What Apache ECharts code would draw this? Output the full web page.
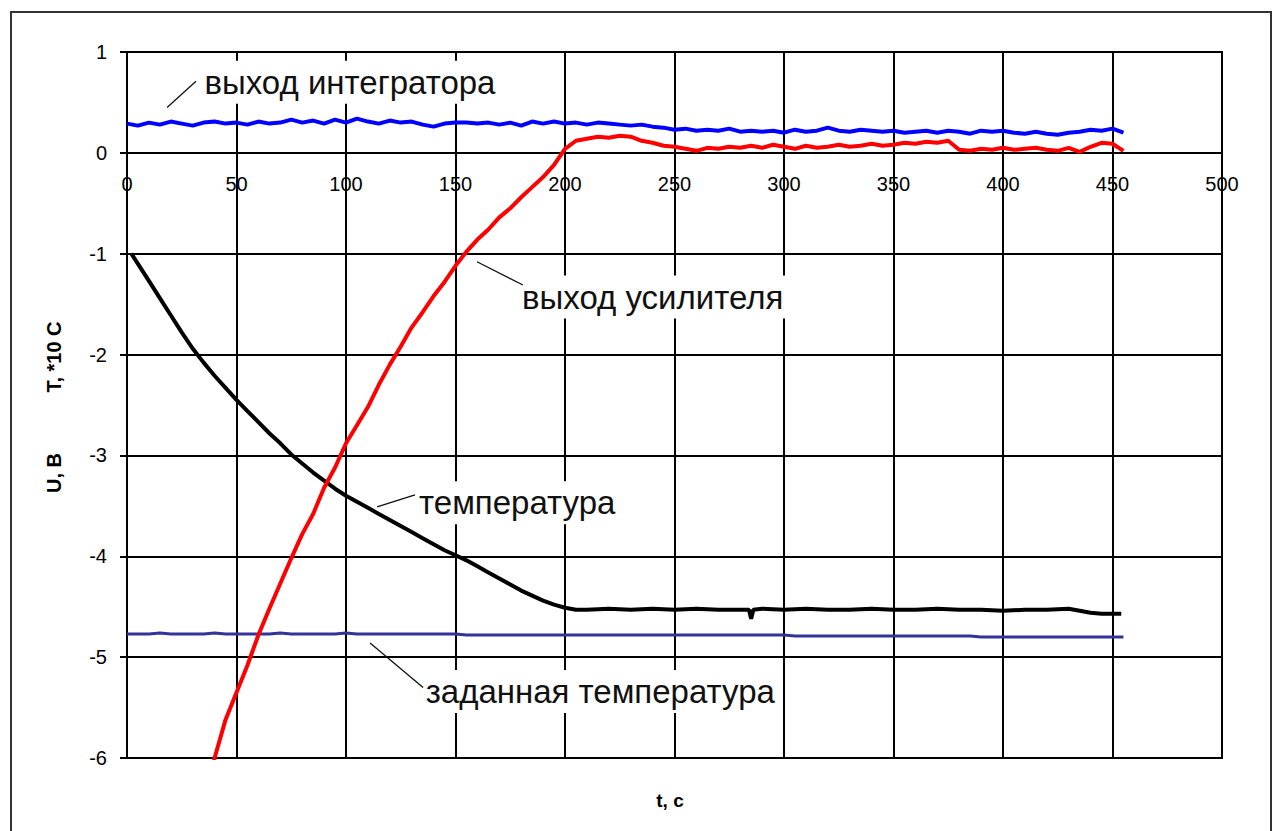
<!DOCTYPE html>
<html><head><meta charset="utf-8">
<script src="https://cdn.jsdelivr.net/npm/echarts@6/dist/echarts.min.js"></script>
<style>html,body{margin:0;padding:0;background:#fff}#c{width:1279px;height:831px}</style>
</head><body><div id="c"></div>
<script>
// time grid, s
const time = [0,5,10,15,20,25,30,35,40,45,50,55,60,65,70,75,80,85,90,95,
  100,105,110,115,120,125,130,135,140,145,150,155,160,165,170,175,180,185,190,195,
  200,205,210,215,220,225,230,235,240,245,250,255,260,265,270,275,280,285,290,295,
  300,305,310,315,320,325,330,335,340,345,350,355,360,365,370,375,380,385,390,395,
  400,405,410,415,420,425,430,435,440,445,450,455];
// выход интегратора
const integratorOut = [0.29,0.27,0.30,0.28,0.31,0.29,0.27,0.30,0.31,0.29,
  0.30,0.28,0.31,0.29,0.30,0.33,0.30,0.32,0.29,0.33,
  0.30,0.34,0.31,0.29,0.32,0.30,0.31,0.28,0.26,0.29,
  0.30,0.30,0.29,0.30,0.28,0.30,0.27,0.31,0.29,0.31,
  0.29,0.30,0.28,0.30,0.29,0.28,0.27,0.28,0.26,0.25,
  0.23,0.24,0.22,0.23,0.22,0.24,0.21,0.22,0.21,0.22,
  0.20,0.23,0.21,0.22,0.25,0.22,0.21,0.23,0.22,0.21,
  0.22,0.20,0.21,0.22,0.20,0.22,0.21,0.19,0.22,0.21,
  0.22,0.20,0.19,0.21,0.19,0.18,0.20,0.21,0.23,0.22,
  0.24,0.20];
// заданная температура
const setpoint = [-4.77,-4.77,-4.77,-4.76,-4.77,-4.77,-4.77,-4.77,-4.76,-4.77,
  -4.77,-4.77,-4.77,-4.77,-4.76,-4.77,-4.77,-4.77,-4.77,-4.77,
  -4.76,-4.77,-4.77,-4.77,-4.77,-4.77,-4.77,-4.77,-4.77,-4.77,
  -4.77,-4.78,-4.78,-4.78,-4.78,-4.78,-4.78,-4.78,-4.78,-4.78,
  -4.78,-4.78,-4.78,-4.78,-4.78,-4.78,-4.78,-4.78,-4.78,-4.78,
  -4.78,-4.78,-4.78,-4.78,-4.78,-4.78,-4.78,-4.78,-4.78,-4.78,
  -4.78,-4.79,-4.79,-4.79,-4.79,-4.79,-4.79,-4.79,-4.79,-4.79,
  -4.79,-4.79,-4.79,-4.79,-4.79,-4.79,-4.79,-4.79,-4.80,-4.80,
  -4.80,-4.80,-4.80,-4.80,-4.80,-4.80,-4.80,-4.80,-4.80,-4.80,
  -4.80,-4.80];
// выход усилителя
const amplifierTime = [30,35,40,45,50,55,60,65,70,75,80,85,90,95,100,105,110,115,120,125,
  130,135,140,145,150,155,160,165,170,175,180,185,190,195,200,205,210,215,220,225,
  230,235,240,245,250,255,260,265,270,275,280,285,290,295,300,305,310,315,320,325,
  330,335,340,345,350,355,360,365,370,375,380,385,390,395,400,405,410,415,420,425,
  430,435,440,445,450,455];
const amplifierOut = [-6.9,-6.5,-6.0,-5.62,-5.35,-5.08,-4.78,-4.52,-4.27,-4.02,
  -3.78,-3.58,-3.32,-3.12,-2.88,-2.70,-2.52,-2.30,-2.10,-1.92,
  -1.73,-1.58,-1.42,-1.28,-1.12,-0.98,-0.86,-0.76,-0.64,-0.55,
  -0.44,-0.34,-0.24,-0.12,0.04,0.12,0.14,0.16,0.15,0.17,
  0.16,0.12,0.10,0.07,0.06,0.04,0.02,0.05,0.04,0.06,
  0.05,0.07,0.05,0.08,0.06,0.04,0.07,0.05,0.06,0.08,
  0.06,0.07,0.09,0.07,0.08,0.10,0.09,0.11,0.10,0.12,
  0.03,0.02,0.04,0.03,0.05,0.03,0.04,0.05,0.03,0.02,
  0.05,0.01,0.06,0.10,0.09,0.02];
// температура
const tempTime = [2,5,10,15,20,25,30,35,40,45,50,55,60,65,70,75,80,85,90,95,
  100,105,110,115,120,125,130,135,140,145,150,155,160,165,170,175,180,185,190,195,
  200,205,210,220,230,240,250,260,270,280,284,285,286,290,300,310,320,330,340,350,
  360,370,380,390,400,410,420,430,435,440,445,450,454];
const temperature = [-1.00,-1.10,-1.27,-1.44,-1.61,-1.78,-1.94,-2.08,-2.21,-2.33,
  -2.45,-2.56,-2.67,-2.78,-2.88,-2.99,-3.08,-3.17,-3.25,-3.33,
  -3.40,-3.46,-3.52,-3.58,-3.64,-3.70,-3.76,-3.82,-3.88,-3.94,
  -3.99,-4.04,-4.10,-4.16,-4.22,-4.28,-4.34,-4.39,-4.44,-4.48,
  -4.51,-4.53,-4.53,-4.52,-4.53,-4.52,-4.53,-4.52,-4.53,-4.53,
  -4.53,-4.62,-4.53,-4.52,-4.53,-4.52,-4.53,-4.53,-4.52,-4.53,
  -4.53,-4.52,-4.53,-4.53,-4.54,-4.53,-4.53,-4.52,-4.54,-4.56,
  -4.57,-4.57,-4.57];

const xName = 't, c';
const yNameU = 'U, B';
const yNameT = 'T, *10 C';
const annotationTexts = ['выход интегратора','выход усилителя','температура','заданная температура'];
const annotationAt = [[34.0,0.70],[179.0,-1.43],[132.0,-3.47],[135.0,-5.34]];
const leaderFrom = [[18.3,0.45],[159.8,-1.08],[114.2,-3.51],[111.0,-4.86]];
const leaderTo = [[31.5,0.71],[180.8,-1.31],[131.5,-3.39],[135.2,-5.30]];

const pairs = (xs, ys) => xs.map((x, i) => [x, ys[i]]);
const FONT = '"Liberation Sans", Arial, sans-serif';

const chart = echarts.init(document.getElementById('c'), null, {renderer: 'svg'});
const lineSeries = (name, xs, ys, color, w) => ({
  name, type: 'line', data: pairs(xs, ys), showSymbol: false, symbol: 'none',
  xAxisIndex: 0, yAxisIndex: 0,
  lineStyle: {color, width: w}, itemStyle: {color}, animation: false, silent: true
});
chart.setOption({
  animation: false,
  backgroundColor: '#fff',
  grid: [
    {left: 127, right: 57, top: 52, bottom: 73, show: true, borderColor: '#000', borderWidth: 2},
    // upper band (0..1) used only to place x tick labels under the zero line
    {left: 127, right: 57, top: 52, height: 101, show: false}
  ],
  xAxis: [{
    type: 'value', min: 0, max: 500, interval: 50, gridIndex: 0,
    axisLine: {onZero: true, lineStyle: {color: '#000', width: 2}},
    axisTick: {show: false},
    axisLabel: {show: false},
    splitLine: {show: true, lineStyle: {color: '#000', width: 2}}
  }, {
    type: 'value', min: 0, max: 500, interval: 50, gridIndex: 1, position: 'bottom',
    axisLine: {show: false}, axisTick: {show: false}, splitLine: {show: false},
    axisLabel: {margin: 21, fontSize: 20, fontFamily: FONT, color: '#000'}
  }],
  yAxis: [{
    type: 'value', min: -6, max: 1, interval: 1, gridIndex: 0,
    axisLine: {show: true, lineStyle: {color: '#000', width: 2}},
    axisTick: {show: true, length: 7, lineStyle: {color: '#000', width: 2}},
    axisLabel: {margin: 20, fontSize: 20, fontFamily: FONT, color: '#000'},
    splitLine: {show: true, lineStyle: {color: '#000', width: 2}}
  }, {
    type: 'value', min: 0, max: 1, gridIndex: 1, show: false
  }],
  series: [
    lineSeries('выход интегратора', time, integratorOut, '#0000ff', 4),
    lineSeries('заданная температура', time, setpoint, '#333399', 3),
    lineSeries('температура', tempTime, temperature, '#000000', 4),
    lineSeries('выход усилителя', amplifierTime, amplifierOut, '#ff0000', 4)
  ]
});

const g = [
  {type: 'rect', shape: {x: 11, y: 12, width: 1260, height: 840}, style: {fill: 'none', stroke: '#333', lineWidth: 2}, z: 0, silent: true},
  {type: 'text', x: 670, y: 800, style: {text: xName, font: 'bold 19px ' + FONT, fill: '#000', align: 'center', verticalAlign: 'middle'}},
  {type: 'text', x: 54, y: 473, rotation: Math.PI / 2, style: {text: yNameU, font: 'bold 20px ' + FONT, fill: '#000', align: 'center', verticalAlign: 'middle'}},
  {type: 'text', x: 54, y: 357, rotation: Math.PI / 2, style: {text: yNameT, font: 'bold 20px ' + FONT, fill: '#000', align: 'center', verticalAlign: 'middle'}}
];
annotationTexts.forEach((t, i) => {
  const a = chart.convertToPixel({gridIndex: 0}, leaderFrom[i]);
  const b = chart.convertToPixel({gridIndex: 0}, leaderTo[i]);
  const p = chart.convertToPixel({gridIndex: 0}, annotationAt[i]);
  g.push({type: 'text', x: p[0], y: p[1], z: 50, style: {text: t, font: '33px ' + FONT, fill: '#111', align: 'left', verticalAlign: 'middle', backgroundColor: '#fff', padding: [5, 3]}});
  g.push({type: 'line', z: 60, shape: {x1: a[0], y1: a[1], x2: b[0], y2: b[1]}, style: {stroke: '#111', lineWidth: 1.3}});
});
chart.setOption({graphic: g});
</script></body></html>
